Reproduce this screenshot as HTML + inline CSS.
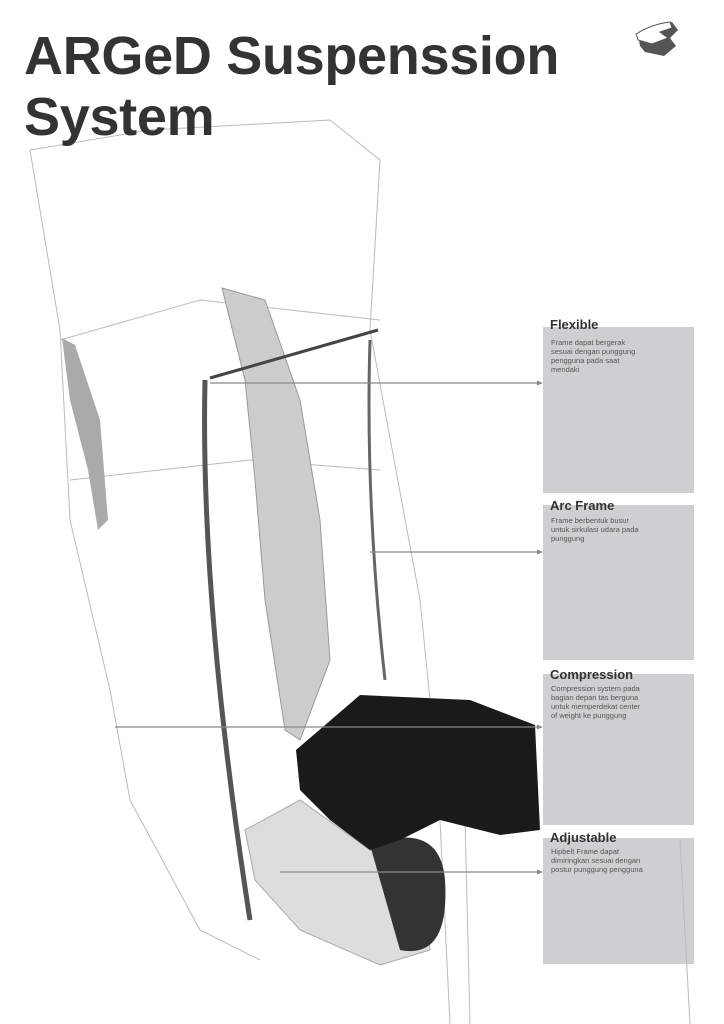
<!DOCTYPE html>
<html><head><meta charset="utf-8"><style>
body{margin:0;width:724px;height:1024px;background:#fff;position:relative;overflow:hidden;font-family:"Liberation Sans",sans-serif}
.t{position:absolute;left:24px;font-weight:bold;font-size:54px;color:#333;letter-spacing:-0.3px;line-height:1}
.box{position:absolute;left:543px;width:151px;background:#cfcfd1}
.h{position:absolute;left:550px;font-weight:bold;font-size:13px;color:#333}
.p{position:absolute;left:551px;font-size:7.5px;line-height:9px;color:#555;width:140px}
</style></head><body>
<div class="box" style="top:327px;height:166px"></div>
<div class="box" style="top:505px;height:155px"></div>
<div class="box" style="top:674px;height:151px"></div>
<div class="box" style="top:838px;height:126px"></div>
<svg width="724" height="1024" style="position:absolute;left:0;top:0">
<g fill="none" stroke="#bbb" stroke-width="1">
<path d="M30 150 L150 130 L330 120 L380 160 L370 330 L420 600 L430 700"/>
<path d="M30 150 L60 330 L70 520 L110 690 L130 800 L200 930 L260 960"/>
<path d="M60 340 L200 300 L380 320"/>
<path d="M70 480 L250 460 L380 470"/>
<path d="M440 820 L450 1024 M465 820 L470 1024 M680 840 L690 1024"/>
</g>
<path d="M62 338 L75 345 L100 420 L108 520 L98 530 L88 470 L70 400 Z" fill="#aaa"/>
<path d="M222 288 L265 300 L300 400 L320 520 L330 660 L300 740 L285 730 L265 600 L255 480 L245 380 Z" fill="#ccc" stroke="#999"/>
<path d="M205 380 Q200 600 250 920" stroke="#555" stroke-width="5" fill="none"/>
<path d="M370 340 Q365 500 385 680" stroke="#666" stroke-width="3" fill="none"/>
<path d="M210 378 L378 330" stroke="#444" stroke-width="3"/>
<path d="M245 830 L300 800 L370 850 L420 860 L430 950 L380 965 L300 930 L255 880 Z" fill="#ddd" stroke="#aaa"/>
<path d="M370 845 Q440 820 445 880 Q450 960 400 950 Z" fill="#333"/>
<path d="M296 750 L360 695 L470 700 L535 725 L540 830 L500 835 L440 820 L400 840 L370 850 L330 820 L300 790 Z" fill="#1a1a1a"/>
<g stroke="#888" stroke-width="1.3">
<line x1="210" y1="383" x2="538" y2="383"/><line x1="370" y1="552" x2="538" y2="552"/>
<line x1="115" y1="727" x2="538" y2="727"/><line x1="280" y1="872" x2="538" y2="872"/>
</g>
<g fill="#888"><path d="M543 383 l-6 -2.5 v5z"/><path d="M543 552 l-6 -2.5 v5z"/><path d="M543 727 l-6 -2.5 v5z"/><path d="M543 872 l-6 -2.5 v5z"/></g>
<path d="M638 34 Q655 22 672 22 L678 30 L670 38 L676 46 L664 56 L645 52 L640 46 Z" fill="#555"/>
<path d="M636 34 Q652 24 670 22 L672 28 L660 32 L668 38 L652 44 L638 40 Z" fill="#fff" stroke="#555"/>
</svg>
<div class="t" style="top:29px">ARGeD Suspenssion</div>
<div class="t" style="top:90px">System</div>
<div class="h" style="top:317px">Flexible</div>
<div class="p" style="top:338px">Frame dapat bergerak<br>sesuai dengan punggung<br>pengguna pada saat<br>mendaki</div>
<div class="h" style="top:498px">Arc Frame</div>
<div class="p" style="top:516px">Frame berbentuk busur<br>untuk sirkulasi udara pada<br>punggung</div>
<div class="h" style="top:667px">Compression</div>
<div class="p" style="top:684px">Compression system pada<br>bagian depan tas berguna<br>untuk memperdekat center<br>of weight ke punggung</div>
<div class="h" style="top:830px">Adjustable</div>
<div class="p" style="top:847px">Hipbelt Frame dapat<br>dimiringkan sesuai dengan<br>postur punggung pengguna</div>
</body></html>
